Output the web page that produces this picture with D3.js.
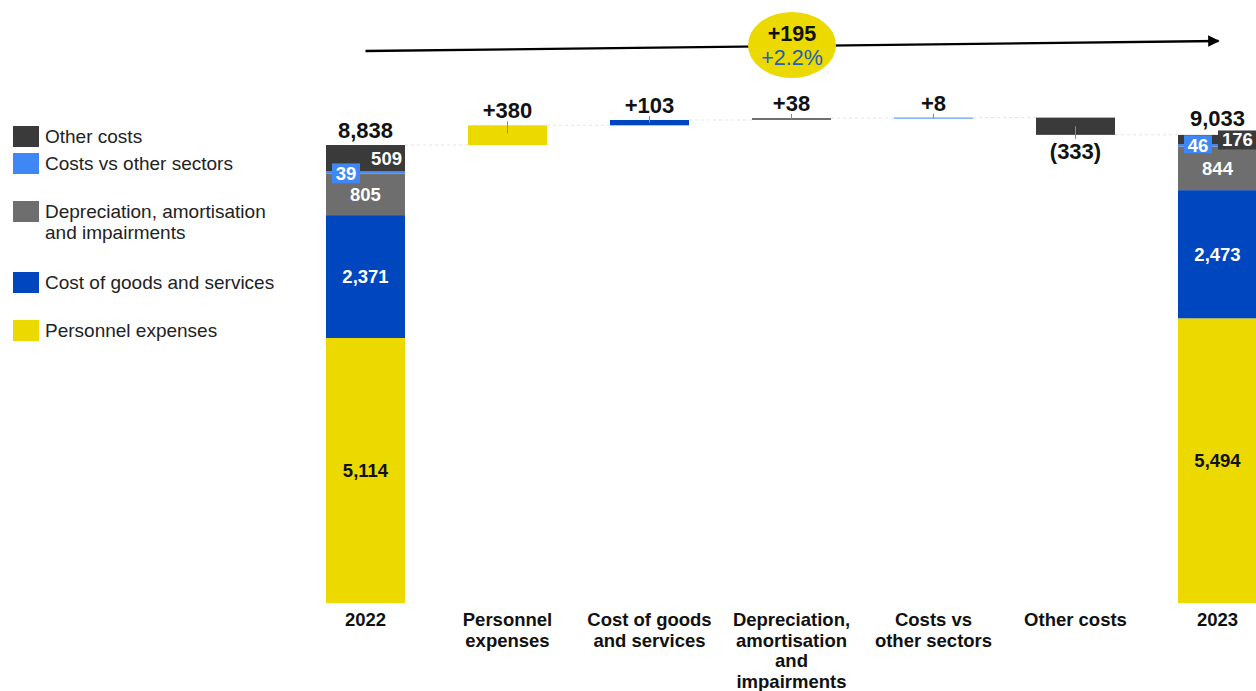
<!DOCTYPE html>
<html>
<head>
<meta charset="utf-8">
<script src="https://cdn.jsdelivr.net/npm/d3@7"></script>
<style>
  html, body { margin: 0; padding: 0; background: #fff; }
  svg { display: block; font-family: "Liberation Sans", Arial, sans-serif; }
</style>
</head>
<body>
<svg id="chart" width="1256" height="691"></svg>
<script>
// Cost components, stacked bottom to top
const components = ["Personnel expenses", "Cost of goods and services", "Depreciation, amortisation and impairments", "Costs vs other sectors", "Other costs"];
const colors = ["#ECD900", "#0046BE", "#6E6E6E", "#3F87F5", "#3A3A3A"];
const values2022 = [5114, 2371, 805, 39, 509];
const values2023 = [5494, 2473, 844, 46, 176];
const deltas = [380, 103, 38, 8, -333];
const deltaLabels = ["+380", "+103", "+38", "+8", "(333)"];
const xCategories = ["2022", "Personnel expenses", "Cost of goods and services", "Depreciation, amortisation and impairments", "Costs vs other sectors", "Other costs", "2023"];
const xLabelLines = [["2022"], ["Personnel", "expenses"], ["Cost of goods", "and services"], ["Depreciation,", "amortisation", "and", "impairments"], ["Costs vs", "other sectors"], ["Other costs"], ["2023"]];
const totalLabels = ["8,838", "9,033"];
const segLabels2022 = ["5,114", "2,371", "805", "39", "509"];
const segLabels2023 = ["5,494", "2,473", "844", "46", "176"];
const changeAbs = "+195";
const changePct = "+2.2%";
const legendLines = [["Other costs"], ["Costs vs other sectors"], ["Depreciation, amortisation", "and impairments"], ["Cost of goods and services"], ["Personnel expenses"]];
const legendColors = ["#3A3A3A", "#3F87F5", "#6E6E6E", "#0046BE", "#ECD900"];

const svg = d3.select("#chart");

const x = d3.scaleBand().domain(xCategories).range([326, 1257]).paddingInner(0.4437).paddingOuter(0);
const y = d3.scaleLinear().domain([0, 10000]).range([603, 84.8]);
const bw = x.bandwidth();

const segFont = 18.5;

// Stacked totals for the two years
function stackedBar(cat, vals, labels, isEnd) {
  const g = svg.append("g");
  let acc = 0;
  const segs = vals.map((v, i) => { const s = { i, y0: acc, y1: acc + v }; acc += v; return s; });
  g.selectAll("rect").data(segs).join("rect")
    .attr("x", x(cat)).attr("width", bw)
    .attr("y", d => y(d.y1)).attr("height", d => y(d.y0) - y(d.y1))
    .attr("fill", d => colors[d.i]);
  const cx = x(cat) + bw / 2;
  // main segment labels
  [0, 1, 2].forEach(i => {
    const s = segs[i];
    g.append("text").attr("x", cx).attr("y", (y(s.y0) + y(s.y1)) / 2 + 6.5)
      .attr("text-anchor", "middle").attr("font-size", segFont).attr("font-weight", "bold")
      .attr("fill", i === 0 ? "#111" : "#fff").text(labels[i]);
  });
  // small segment: costs vs other sectors (boxed label at left)
  const sv = segs[3];
  const svy = (y(sv.y0) + y(sv.y1)) / 2;
  const bx = x(cat) + 6;
  g.append("rect").attr("x", bx).attr("y", svy - 10 + (isEnd ? 0 : 1)).attr("width", 28).attr("height", isEnd ? 18 : 20).attr("fill", colors[3]);
  g.append("text").attr("x", bx + 14).attr("y", svy + 6.5 + (isEnd ? 0 : 1)).attr("text-anchor", "middle")
    .attr("font-size", segFont).attr("font-weight", "bold").attr("fill", "#fff").text(labels[3]);
  // other costs label
  const oc = segs[4];
  if (!isEnd) {
    g.append("text").attr("x", x(cat) + bw - 3).attr("y", (y(oc.y0) + y(oc.y1)) / 2 + 6.5)
      .attr("text-anchor", "end").attr("font-size", segFont).attr("font-weight", "bold").attr("fill", "#fff").text(labels[4]);
  } else {
    const ty = (y(oc.y0) + y(oc.y1)) / 2;
    g.append("rect").attr("x", x(cat) + 40).attr("y", ty - 9).attr("width", 45).attr("height", 19).attr("fill", colors[4]);
    g.append("text").attr("x", x(cat) + 44).attr("y", ty + 7)
      .attr("text-anchor", "start").attr("font-size", segFont).attr("font-weight", "bold").attr("fill", "#fff").text(labels[4]);
  }
  return acc;
}

const total2022 = stackedBar("2022", values2022, segLabels2022, false);
const total2023 = stackedBar("2023", values2023, segLabels2023, true);

svg.append("text").attr("x", x("2022") + bw / 2).attr("y", y(total2022) - 7)
  .attr("text-anchor", "middle").attr("font-size", 22).attr("font-weight", "bold").attr("fill", "#111").text(totalLabels[0]);
svg.append("text").attr("x", x("2023") + bw / 2).attr("y", y(total2023) - 9)
  .attr("text-anchor", "middle").attr("font-size", 22).attr("font-weight", "bold").attr("fill", "#111").text(totalLabels[1]);

// Waterfall steps
let level = total2022;
const steps = deltas.map((d, i) => { const s = { i, cat: xCategories[i + 1], start: level, end: level + d, d }; level += d; return s; });

// faint connectors between bars
const conn = svg.append("g").attr("stroke", "#e4e4e4").attr("stroke-width", 1).attr("stroke-dasharray", "3,3");
conn.append("line").attr("x1", x("2022") + bw).attr("x2", x(steps[0].cat)).attr("y1", y(total2022)).attr("y2", y(total2022));
steps.forEach((s, i) => {
  const nextCat = i < steps.length - 1 ? steps[i + 1].cat : "2023";
  conn.append("line").attr("x1", x(s.cat) + bw).attr("x2", x(nextCat)).attr("y1", y(s.end)).attr("y2", y(s.end));
});

const wg = svg.append("g");
steps.forEach(s => {
  const top = y(Math.max(s.start, s.end));
  const bot = y(Math.min(s.start, s.end));
  const h = Math.max(bot - top, 1);
  wg.append("rect").attr("x", x(s.cat)).attr("width", bw).attr("y", top).attr("height", h).attr("fill", colors[s.i]);
  const cx = x(s.cat) + bw / 2;
  if (s.d >= 0) {
    wg.append("line").attr("x1", cx).attr("x2", cx).attr("y1", top - 4).attr("y2", top + Math.min(h / 2, 8))
      .attr("stroke", "#888").attr("stroke-width", 1);
    wg.append("text").attr("x", cx).attr("y", top - 7).attr("text-anchor", "middle")
      .attr("font-size", 22).attr("font-weight", "bold").attr("fill", "#111").text(deltaLabels[s.i]);
  } else {
    wg.append("line").attr("x1", cx).attr("x2", cx).attr("y1", top + h / 2).attr("y2", bot + 4)
      .attr("stroke", "#888").attr("stroke-width", 1);
    wg.append("text").attr("x", cx).attr("y", bot + 24).attr("text-anchor", "middle")
      .attr("font-size", 22).attr("font-weight", "bold").attr("fill", "#111").text(deltaLabels[s.i]);
  }
});

// X axis labels
const xl = svg.append("g");
xCategories.forEach((c, i) => {
  const t = xl.append("text").attr("x", x(c) + bw / 2).attr("y", 626).attr("text-anchor", "middle")
    .attr("font-size", 18.5).attr("font-weight", "bold").attr("fill", "#111");
  xLabelLines[i].forEach((ln, j) => t.append("tspan").attr("x", x(c) + bw / 2).attr("dy", j === 0 ? 0 : 20.7).text(ln));
});

// Overall change arrow
const defs = svg.append("defs");
defs.append("marker").attr("id", "arrowhead").attr("viewBox", "0 0 10 10").attr("refX", 9).attr("refY", 5)
  .attr("markerWidth", 5).attr("markerHeight", 5).attr("orient", "auto")
  .append("path").attr("d", "M0,0 L10,5 L0,10 Z").attr("fill", "#000");
svg.append("line").attr("x1", x("2022") + bw / 2).attr("y1", 51).attr("x2", x("2023") + bw / 2 + 1).attr("y2", 41)
  .attr("stroke", "#000").attr("stroke-width", 2.3).attr("marker-end", "url(#arrowhead)");
svg.append("ellipse").attr("cx", 792).attr("cy", 45).attr("rx", 44).attr("ry", 33).attr("fill", "#ECD900");
svg.append("text").attr("x", 792).attr("y", 41).attr("text-anchor", "middle").attr("font-size", 21.5).attr("font-weight", "bold").attr("fill", "#111").text(changeAbs);
svg.append("text").attr("x", 792).attr("y", 65).attr("text-anchor", "middle").attr("font-size", 21.5).attr("fill", "#1F5FB8").text(changePct);

// Legend
const legendY = [126, 153, 201, 272, 320];
const lg = svg.append("g");
legendLines.forEach((lines, i) => {
  lg.append("rect").attr("x", 13).attr("y", legendY[i]).attr("width", 26).attr("height", 21).attr("fill", legendColors[i]);
  const t = lg.append("text").attr("x", 45).attr("y", legendY[i] + 17).attr("font-size", 19).attr("fill", "#222");
  lines.forEach((ln, j) => t.append("tspan").attr("x", 45).attr("dy", j === 0 ? 0 : 21).text(ln));
});
</script>
</body>
</html>
